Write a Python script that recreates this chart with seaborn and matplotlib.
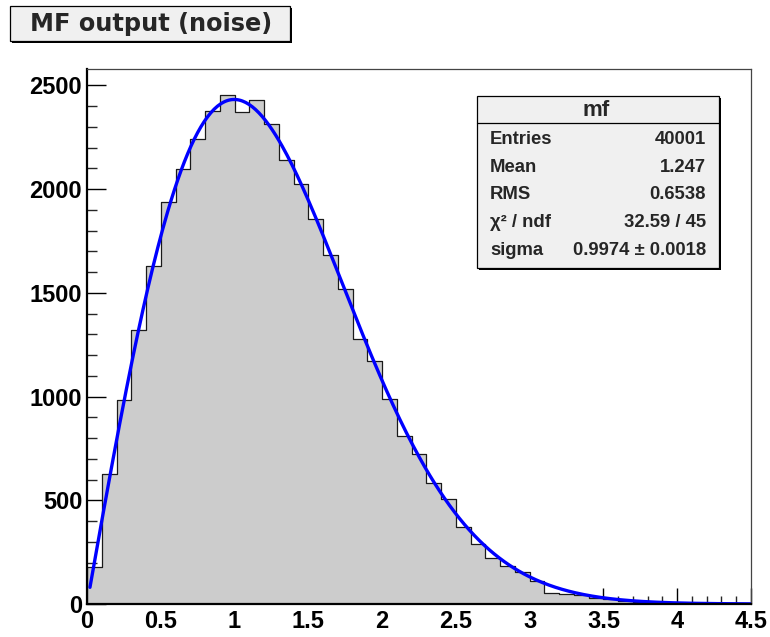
import numpy as np
import pandas as pd
import matplotlib
matplotlib.use("Agg")
import matplotlib.pyplot as plt
from matplotlib.patches import Rectangle
from matplotlib.lines import Line2D
import seaborn as sns

# ---- histogram contents (45 bins of width 0.1 on [0, 4.5]) ----
bin_edges = [round(0.1 * i, 2) for i in range(46)]
counts = [176, 629, 985, 1321, 1631, 1940, 2098, 2241, 2378, 2455,
          2373, 2432, 2315, 2140, 2024, 1857, 1683, 1519, 1278, 1173,
          989, 811, 721, 584, 507, 370, 291, 224, 182, 154,
          111, 55, 50, 42, 31, 22, 16, 12, 8, 5,
          4, 2, 1, 1, 0]

# ---- stats box entries ----
hist_name = "mf"
stat_labels = ["Entries", "Mean", "RMS", "\u03c7\u00b2 / ndf", "sigma"]
stat_values = ["40001", "1.247", "0.6538", "32.59 / 45", "0.9974 \u00b1 0.0018"]

# Rayleigh fit parameters
n_entries = 40001
fit_sigma = 0.9974
fit_range = (0.02, 4.5)

x_ticks = [0, 0.5, 1, 1.5, 2, 2.5, 3, 3.5, 4, 4.5]
x_ticklabels = ["0", "0.5", "1", "1.5", "2", "2.5", "3", "3.5", "4", "4.5"]
y_ticks = [0, 500, 1000, 1500, 2000, 2500]
y_ticklabels = ["0", "500", "1000", "1500", "2000", "2500"]
title = "MF output (noise)"

sns.set_theme(style="white")
plt.rcParams["font.family"] = ["Liberation Sans", "DejaVu Sans"]
plt.rcParams["font.weight"] = "bold"

W, H = 770, 637
fig = plt.figure(figsize=(W / 100, H / 100), dpi=100)
fig.patch.set_facecolor("white")


def fx(px):
    return px / W


def fy(py):
    return 1 - py / H


ax = fig.add_axes([fx(87), fy(604), fx(751) - fx(87), fy(69.3) - fy(604)])

centers = [(a + b) / 2 for a, b in zip(bin_edges[:-1], bin_edges[1:])]
df = pd.DataFrame({"x": centers, "n": counts})
sns.histplot(data=df, x="x", weights="n", bins=bin_edges, element="step",
             fill=True, ax=ax, color="#cccccc", alpha=1, linewidth=0.9)
for coll in ax.collections:
    coll.set_facecolor("#cccccc")
    coll.set_edgecolor("#1a1a1a")
    coll.set_linewidth(0.9)

# fitted Rayleigh curve, scaled to bin width
bw = bin_edges[1] - bin_edges[0]
xs = np.linspace(fit_range[0], fit_range[1], 400)
ys = n_entries * bw * xs / fit_sigma**2 * np.exp(-xs**2 / (2 * fit_sigma**2))
sns.lineplot(x=xs, y=ys, ax=ax, color="#0000ff", linewidth=2.4)

ax.set_xlim(0, 4.5)
ax.set_ylim(0, 2578)
ax.set_xlabel("")
ax.set_ylabel("")

ax.set_xticks(x_ticks)
ax.set_xticklabels(x_ticklabels, fontsize=17, fontweight="bold")
ax.set_yticks(y_ticks)
ax.set_yticklabels(y_ticklabels, fontsize=17, fontweight="bold")
ax.set_xticks(np.arange(0, 4.5001, 0.1), minor=True)
ax.set_yticks(np.arange(0, 2578, 100), minor=True)
ax.tick_params(axis="x", which="major", direction="in", length=11.5, width=1.0,
               pad=4, colors="black", bottom=True, top=False)
ax.tick_params(axis="x", which="minor", direction="in", length=5.8, width=1.0,
               bottom=True, top=False)
ax.tick_params(axis="y", which="major", direction="in", length=14, width=1.0,
               pad=3.5, colors="black", left=True, right=False)
ax.tick_params(axis="y", which="minor", direction="in", length=7, width=1.0,
               left=True, right=False)

for s in ["left", "bottom"]:
    ax.spines[s].set_color("black")
    ax.spines[s].set_linewidth(1.6)
for s in ["top", "right"]:
    ax.spines[s].set_color("#444444")
    ax.spines[s].set_linewidth(0.9)
ax.grid(False)


def shadow_box(x0, y0, x1, y1):
    fig.add_artist(Rectangle((fx(x0 + 2), fy(y1 + 2)), fx(x1 - x0), fy(y0) - fy(y1),
                             transform=fig.transFigure, facecolor="black",
                             edgecolor="none", zorder=5))
    fig.add_artist(Rectangle((fx(x0), fy(y1)), fx(x1 - x0), fy(y0) - fy(y1),
                             transform=fig.transFigure, facecolor="#f0f0f0",
                             edgecolor="black", linewidth=0.9, zorder=6))


# title box
shadow_box(10, 6, 290, 41)
fig.text(fx(151), fy(23.5), title, ha="center", va="center", fontsize=17.3,
         fontweight="bold", family=["DejaVu Sans"], zorder=7)

# stats box
shadow_box(477, 96, 719, 268)
fig.add_artist(Line2D([fx(477), fx(719)], [fy(123.3), fy(123.3)],
                      transform=fig.transFigure, color="black", linewidth=0.9,
                      zorder=7))
fig.text(fx(596), fy(110), hist_name, ha="center", va="center", fontsize=16,
         fontweight="bold", zorder=7)
row_y = [139, 167, 194.5, 222.5, 250.5]
for lab, val, yy in zip(stat_labels, stat_values, row_y):
    fig.text(fx(490), fy(yy), lab, ha="left", va="center", fontsize=13.3,
             fontweight="bold", zorder=7)
    fig.text(fx(706), fy(yy), val, ha="right", va="center", fontsize=13.3,
             fontweight="bold", zorder=7)

fig.savefig("out.png", dpi=100, facecolor="white")
